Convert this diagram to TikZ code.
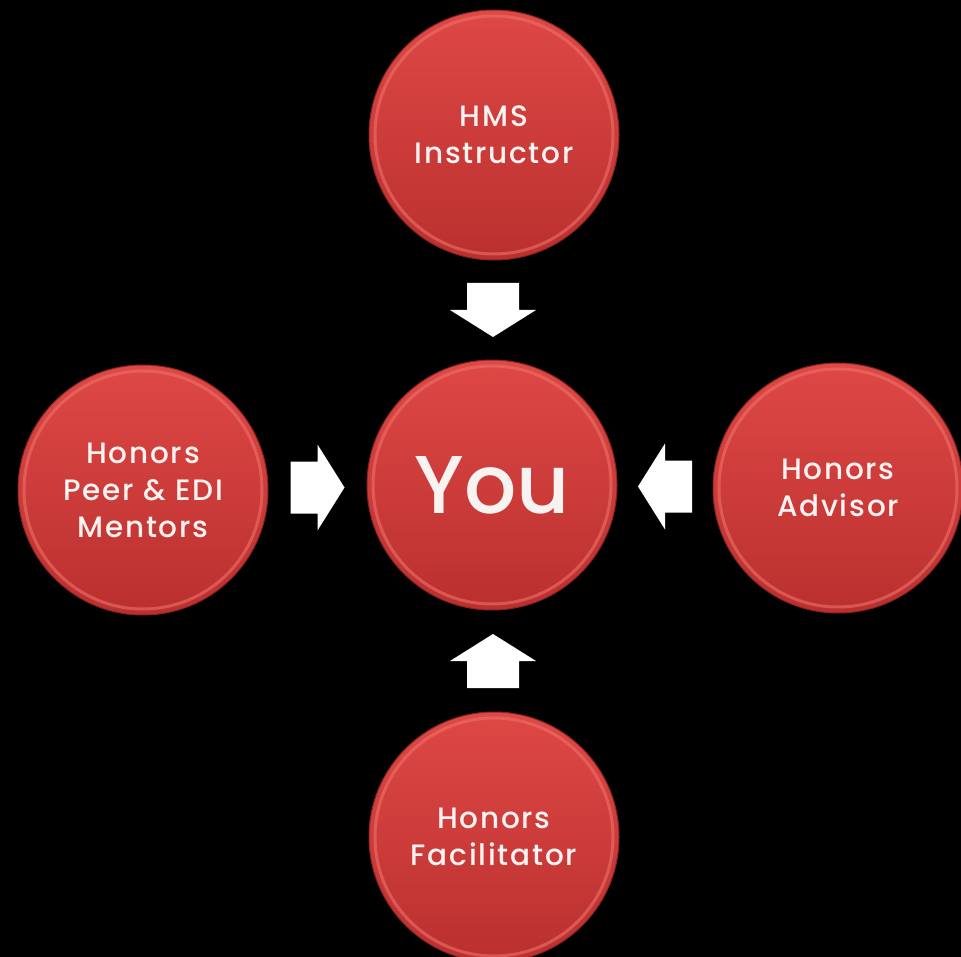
\documentclass[tikz,border=0pt]{standalone}
\usepackage{fontspec}
\setmainfont{Poppins}
\IfFontExistsTF{Poppins Medium}{%
  \newfontfamily\labfont{Poppins Medium}[LetterSpace=6]%
  \newfontfamily\youfont{Poppins Medium}}{%
  \newfontfamily\labfont{Poppins}[FakeBold=1.2,LetterSpace=6]%
  \newfontfamily\youfont{Poppins}[FakeBold=1.2]}
\usetikzlibrary{calc}
\definecolor{redtop}{RGB}{222,72,69}
\definecolor{redbot}{RGB}{186,48,47}
\definecolor{rimc}{RGB}{238,112,106}
\definecolor{txtc}{RGB}{248,243,241}
\tikzset{
  bub/.style={circle, minimum size=250pt, inner sep=0pt,
    top color=redtop, bottom color=redbot,
    draw=redbot!75!black, line width=1pt,
    text=txtc, align=center,
    font=\labfont\fontsize{29.5}{37}\selectfont,
    path picture={\draw[rimc, line width=3pt, opacity=0.6]
      (path picture bounding box.center) circle (119pt);}},
  blockarrow/.style={fill=white, draw=none}
}
\newcommand{\blockarrowpath}{(-27,-26) -- (0,-26) -- (0,-43) -- (27,0) -- (0,43) -- (0,26) -- (-27,26) -- cycle}
\begin{document}
\begin{tikzpicture}[x=1pt,y=-1pt]
\fill[black] (0,0) rectangle (961,957);
\useasboundingbox (0,0) rectangle (961,957);
\node[bub] (you) at (492,485) {\youfont\fontsize{82}{90}\selectfont You};
\node[bub] (top) at (494,135) {HMS\\Instructor};
\node[bub] (left) at (143,490) {Honors\\Peer \& EDI\\Mentors};
\node[bub] (right) at (838,488) {Honors\\Advisor};
\node[bub] (bottom) at (494,837) {Honors\\Facilitator};
\coordinate (atop) at ($(top)!0.5!(you)$);
\coordinate (aleft) at ($(left)!0.5!(you)$);
\coordinate (aright) at ($(right)!0.5!(you)$);
\coordinate (abottom) at ($(bottom)!0.5!(you)$);
\fill[blockarrow, shift={(atop)}, rotate=-90] \blockarrowpath;
\fill[blockarrow, shift={(aleft)}, rotate=0] \blockarrowpath;
\fill[blockarrow, shift={(aright)}, rotate=180] \blockarrowpath;
\fill[blockarrow, shift={(abottom)}, rotate=90] \blockarrowpath;
\end{tikzpicture}
\end{document}
